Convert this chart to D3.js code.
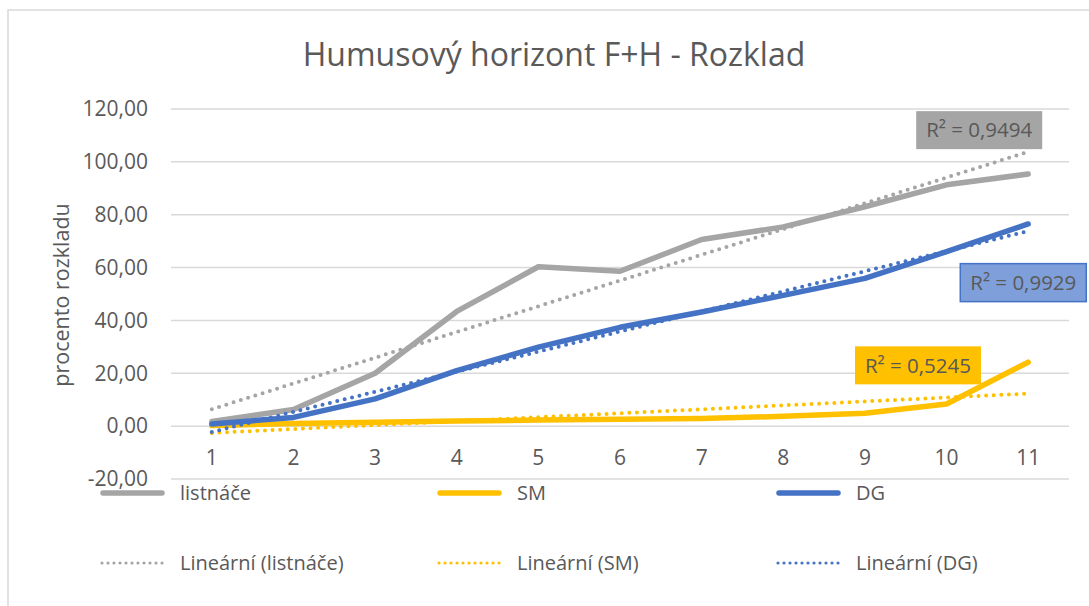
<!DOCTYPE html>
<html><head><meta charset="utf-8">
<script src="https://cdn.jsdelivr.net/npm/d3@7/dist/d3.min.js"></script>
<style>
html,body{margin:0;padding:0;background:#fff;}
svg{display:block;font-family:"Open Sans",sans-serif;}
</style></head>
<body>
<script>
// ---- data ----
const categories = [1,2,3,4,5,6,7,8,9,10,11];
const listnace = [1.8, 6.3, 20.0, 43.4, 60.3, 58.6, 70.6, 75.4, 83.0, 91.3, 95.4];
const sm       = [0.2, 1.0, 1.5, 1.9, 2.3, 2.6, 2.9, 3.7, 4.9, 8.4, 24.2];
const dg       = [0.8, 3.3, 10.3, 21.0, 29.9, 37.4, 43.2, 49.5, 55.9, 66.0, 76.5];
const seriesNames = ["listnáče", "SM", "DG"];
const trendNames = ["Lineární (listnáče)", "Lineární (SM)", "Lineární (DG)"];
const r2Labels = ["R² = 0,9494", "R² = 0,5245", "R² = 0,9929"];
const yTicks = [-20, 0, 20, 40, 60, 80, 100, 120];
const titleText = "Humusový horizont F+H - Rozklad";
const yAxisTitle = "procento rozkladu";

const W = 1089, H = 606;
const colors = ["#A5A5A5", "#FFC000", "#4472C4"];
const textColor = "#595959";

const svg = d3.select("body").append("svg").attr("width", W).attr("height", H);
svg.append("rect").attr("x", 8).attr("y", 10).attr("width", 1300).attr("height", 800)
  .attr("fill", "#fff").attr("stroke", "#D9D9D9").attr("stroke-width", 1.5);

const x = d3.scaleBand().domain(categories).range([171, 1069]);
const cx = c => x(c) + x.bandwidth() / 2;
const y = d3.scaleLinear().domain([-20, 120]).range([479, 109]);

// title
svg.append("text").attr("x", 554).attr("y", 66).attr("text-anchor", "middle")
  .attr("font-size", 32).attr("fill", textColor).text(titleText);

// gridlines
svg.append("g").selectAll("line").data(yTicks).join("line")
  .attr("x1", 171).attr("x2", 1069)
  .attr("y1", d => y(d)).attr("y2", d => y(d))
  .attr("stroke", "#D9D9D9").attr("stroke-width", 1.5);

const fmt = v => d3.format(".2f")(v).replace(".", ",").replace("−", "-");
// y axis labels
svg.append("g").selectAll("text").data(yTicks).join("text")
  .attr("x", 148).attr("y", d => y(d)).attr("dy", "0.35em")
  .attr("text-anchor", "end").attr("font-size", 21).attr("fill", textColor)
  .text(fmt);

// x labels
svg.append("g").selectAll("text").data(categories).join("text")
  .attr("x", d => cx(d)).attr("y", 465).attr("text-anchor", "middle")
  .attr("font-size", 21).attr("fill", textColor).text(d => d);

// y axis title
svg.append("text").attr("transform", "translate(69,295) rotate(-90)")
  .attr("text-anchor", "middle").attr("font-size", 21.5).attr("fill", textColor)
  .text(yAxisTitle);

const allSeries = [listnace, sm, dg];

// linear regression trend
function linreg(vals) {
  const xm = d3.mean(categories), ym = d3.mean(vals);
  let sxy = 0, sxx = 0;
  categories.forEach((c, i) => { sxy += (c - xm) * (vals[i] - ym); sxx += (c - xm) * (c - xm); });
  const b = sxy / sxx, a = ym - b * xm;
  return c => a + b * c;
}

const line = d3.line().x((d, i) => cx(categories[i])).y(d => y(d));

allSeries.forEach((vals, i) => {
  svg.append("path").datum(vals).attr("d", line)
    .attr("fill", "none").attr("stroke", colors[i]).attr("stroke-width", 5.5)
    .attr("stroke-linejoin", "round").attr("stroke-linecap", "round");
});
allSeries.forEach((vals, i) => {
  const f = linreg(vals);
  const tv = [categories[0], categories[categories.length - 1]];
  svg.append("line")
    .attr("x1", cx(tv[0])).attr("y1", y(f(tv[0])))
    .attr("x2", cx(tv[1])).attr("y2", y(f(tv[1])))
    .attr("stroke", colors[i]).attr("stroke-width", 4)
    .attr("stroke-linecap", "round").attr("stroke-dasharray", "0,7.6");
});

// R² labels: anchors in data coords (category, value)
const r2Anchor = [[10.4, 112], [9.65, 23], [10.94, 54.3]];
const r2Fill = ["#A5A5A5", "#FFC000", "#7F9FDA"];
const r2Stroke = ["none", "none", "#4472C4"];
const xc = d3.scaleLinear().domain([1, 11]).range([cx(1), cx(11)]);
r2Labels.forEach((t, i) => {
  const px = xc(r2Anchor[i][0]), py = y(r2Anchor[i][1]);
  svg.append("rect").attr("x", px - 63).attr("y", py - 19).attr("width", 126).attr("height", 38)
    .attr("fill", r2Fill[i]).attr("stroke", r2Stroke[i]).attr("stroke-width", 1.5);
  svg.append("text").attr("x", px).attr("y", py).attr("dy", "0.35em")
    .attr("text-anchor", "middle").attr("font-size", 20.5).attr("fill", textColor).text(t);
});

// legend
const legX = [100, 437, 776];
seriesNames.forEach((n, i) => {
  const g = svg.append("g");
  g.append("line").attr("x1", legX[i] + 3).attr("x2", legX[i] + 62).attr("y1", 493).attr("y2", 493)
    .attr("stroke", colors[i]).attr("stroke-width", 5.5).attr("stroke-linecap", "round");
  g.append("text").attr("x", legX[i] + 80).attr("y", 493).attr("dy", "0.35em")
    .attr("font-size", 20).attr("fill", textColor).text(n);
});
trendNames.forEach((n, i) => {
  const g = svg.append("g");
  g.append("line").attr("x1", legX[i] + 2).attr("x2", legX[i] + 66).attr("y1", 563).attr("y2", 563)
    .attr("stroke", colors[i]).attr("stroke-width", 3.2).attr("stroke-linecap", "round")
    .attr("stroke-dasharray", "0,6");
  g.append("text").attr("x", legX[i] + 80).attr("y", 563).attr("dy", "0.35em")
    .attr("font-size", 20).attr("fill", textColor).text(n);
});
</script>
</body></html>
